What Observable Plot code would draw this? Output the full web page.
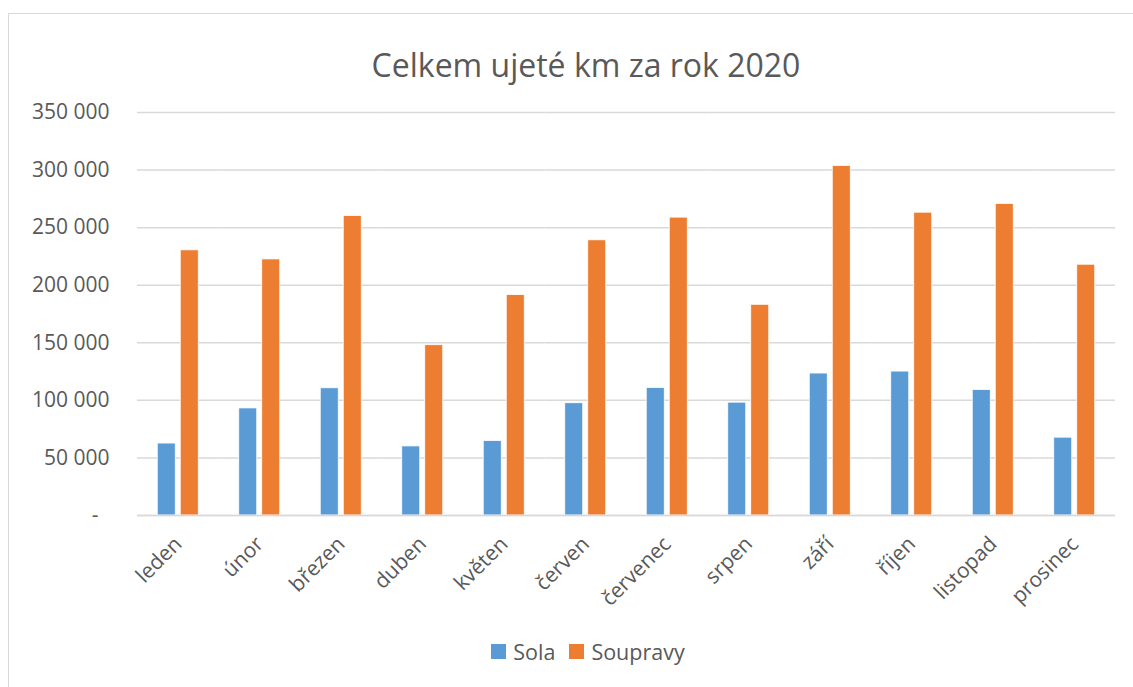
<!DOCTYPE html>
<html>
<head>
<meta charset="utf-8">
<script src="https://cdn.jsdelivr.net/npm/d3@7"></script>
<script src="https://cdn.jsdelivr.net/npm/@observablehq/plot@0.6"></script>
<style>
  html, body { margin: 0; padding: 0; background: #fff; }
  #wrap { position: relative; width: 1133px; height: 687px; overflow: hidden; font-family: "Open Sans", sans-serif; color: #595959; }
  #frame { position: absolute; left: 8px; top: 13px; width: 1200px; height: 800px; border-left: 1.5px solid #d9d9d9; border-top: 1.5px solid #d9d9d9; }
  #title { position: absolute; left: 0; width: 1172px; top: 43px; text-align: center; font-size: 32px; color: #595959; }
  #chart { position: absolute; left: 0; top: 0; }
  #legend { position: absolute; top: 637px; left: 0; width: 1176px; display: flex; justify-content: center; font-size: 21.5px; }
  .item { display: flex; align-items: center; margin: 0 7px; }
  .sw { width: 15px; height: 15px; margin-right: 7px; }
</style>
</head>
<body>
<div id="wrap">
  <div id="frame"></div>
  <div id="chart"></div>
  <div id="title">Celkem ujeté km za rok 2020</div>
  <div id="legend"></div>
</div>
<script>
const months = ["leden","únor","březen","duben","květen","červen","červenec","srpen","září","říjen","listopad","prosinec"];
const seriesNames = ["Sola","Soupravy"];
const colors = ["#5b9bd5","#ed7d31"];
const sola = [62500, 93000, 110500, 60000, 64700, 97500, 110800, 98000, 123300, 125000, 109000, 67600];
const soupravy = [230300, 222400, 260100, 147900, 191400, 239000, 258700, 183000, 303600, 263000, 270600, 217800];
const yTicks = [0, 50000, 100000, 150000, 200000, 250000, 300000, 350000];

const data = [];
months.forEach((m, i) => {
  data.push({month: m, series: "Sola", value: sola[i]});
  data.push({month: m, series: "Soupravy", value: soupravy[i]});
});

const fmt = v => v === 0 ? "-\u00a0\u00a0" : d3.format(",")(v).replace(/,/g, "\u00a0");

const chart = Plot.plot({
  width: 1133,
  height: 620,
  marginTop: 112,
  marginBottom: 105,
  marginLeft: 137,
  marginRight: 18,
  style: {fontFamily: "'Open Sans', sans-serif", fontSize: "21px", color: "#595959", background: "transparent"},
  fx: {domain: months, padding: 0, round: false, label: null, tickRotate: -45, tickSize: 0, tickPadding: 25},
  x: {domain: seriesNames, paddingInner: 0.217, paddingOuter: 0.88, round: false, axis: null},
  y: {domain: [0, 350000], ticks: yTicks, tickFormat: fmt, label: null, tickSize: 0, tickPadding: 28},
  color: {domain: seriesNames, range: colors},
  marks: [
    Plot.gridY(yTicks, {stroke: "#d9d9d9", strokeOpacity: 1, strokeWidth: 1.5}),
    Plot.barY(data, {fx: "month", x: "series", y: "value", fill: "series", stroke: "white", strokeWidth: 0.8}),
    Plot.ruleY([0], {stroke: "#d9d9d9", strokeWidth: 1.5})
  ]
});
document.getElementById("chart").appendChild(chart);

const legend = document.getElementById("legend");
seriesNames.forEach((s, i) => {
  const it = document.createElement("div");
  it.className = "item";
  const sw = document.createElement("div");
  sw.className = "sw";
  sw.style.background = colors[i];
  const t = document.createElement("span");
  t.textContent = s;
  it.appendChild(sw); it.appendChild(t);
  legend.appendChild(it);
});
</script>
</body>
</html>
